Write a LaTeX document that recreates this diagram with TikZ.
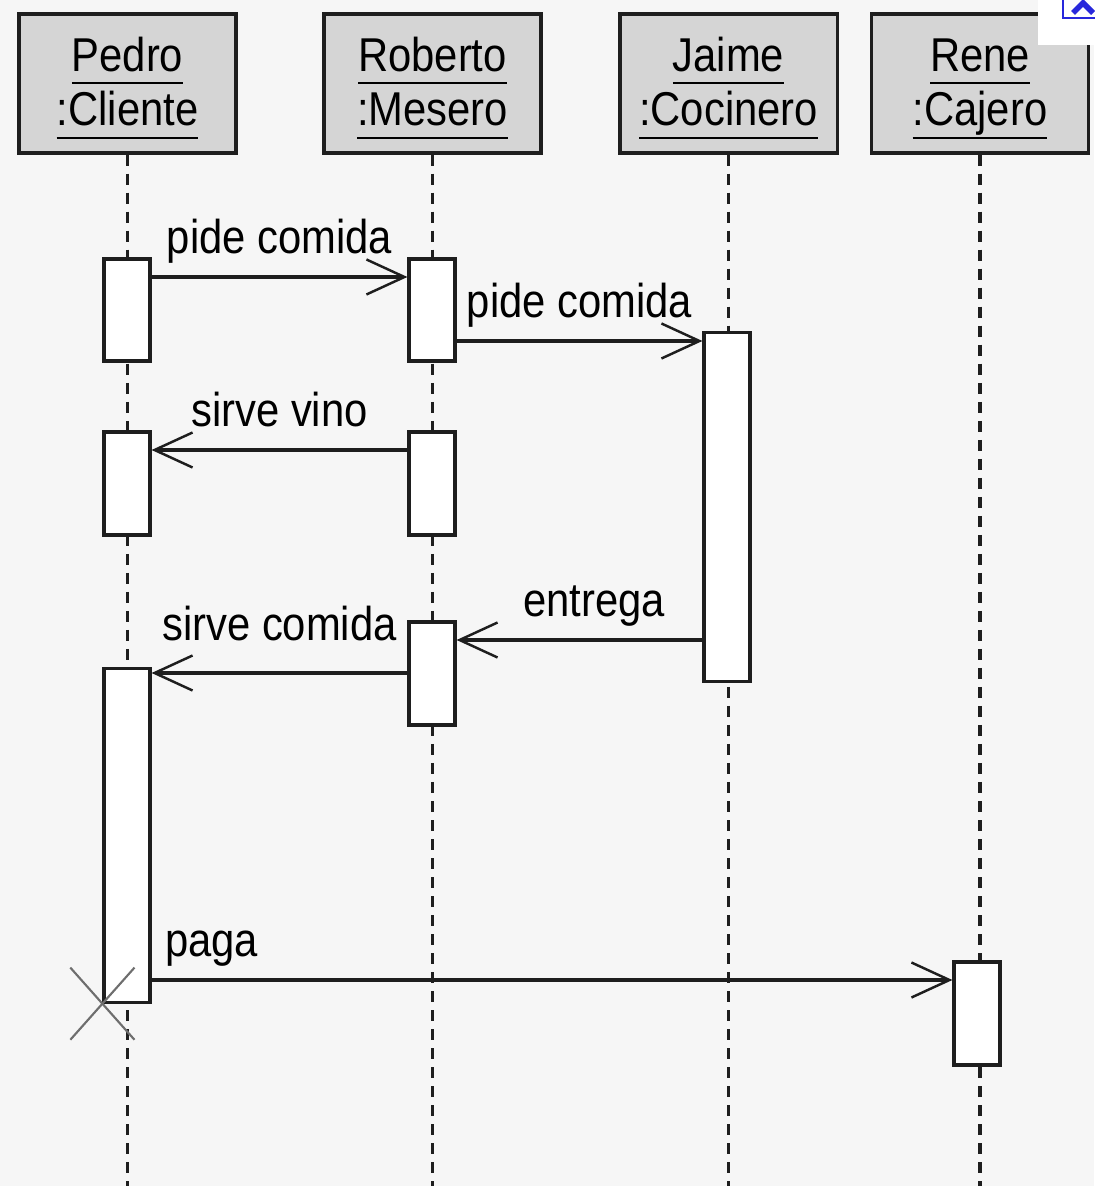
\documentclass[tikz,border=0pt]{standalone}
\usepackage{fontspec}
\setmainfont{Liberation Sans}[FakeStretch=0.88]
\usetikzlibrary{arrows.meta,shapes.misc}

\newcommand{\objname}[2]{\underline{\raisebox{0pt}[\height][2pt]{#1}}\rule{0pt}{12.5pt}\\\underline{\raisebox{0pt}[\height][2pt]{#2}}}

\begin{document}
\begin{tikzpicture}[x=0.01cm,y=-0.01cm,
  every node/.style={font=\fontsize{13.5}{15.6}\selectfont},
  head/.style={draw=sd_line,fill=sd_head,line width=0.9pt,minimum width=2.17cm,minimum height=1.39cm,align=center},
  act/.style={draw=sd_line,fill=white,line width=0.9pt,minimum width=0.46cm,inner sep=0pt},
  lifeline/.style={draw=sd_line,line width=0.9pt,dash pattern=on 0.11cm off 0.08cm},
  msg/.style={draw=sd_line,line width=0.9pt,-{Straight Barb[length=0.38cm,width=0.35cm,line width=0.7pt]}},
  lbl/.style={inner sep=1pt,text height=10pt,text depth=3pt,above=0.08cm}]

% ------------------------------------------------ diagram colors
\definecolor{sd_back}{RGB}{246,246,246}
\definecolor{sd_head}{RGB}{213,213,213}
\definecolor{sd_line}{RGB}{30,30,30}
\definecolor{sd_cross}{RGB}{110,110,110}
\definecolor{sd_icon}{RGB}{40,40,220}

\useasboundingbox (0,0) rectangle (1094,1186);
\fill[sd_back] (0,0) rectangle (1094,1186);

% ------------------------------------------------ objects
\node[head] (pedro)   at (127.5,83.5) {\objname{Pedro}{:Cliente}};
\node[head] (roberto) at (432.5,83.5) {\objname{Roberto}{:Mesero}};
\node[head] (jaime)   at (728.5,83.5) {\objname{Jaime}{:Cocinero}};
\node[head] (rene)    at (980,83.5)   {\objname{Rene}{:Cajero}};

\draw[lifeline] (pedro.south)   -- (pedro.south |- 0,1186);
\draw[lifeline] (roberto.south) -- (roberto.south |- 0,1186);
\draw[lifeline] (jaime.south)   -- (jaime.south |- 0,1186);
\draw[lifeline] (rene.south)    -- (rene.south |- 0,1186);

% ------------------------------------------------ activations
\node[act,minimum height=1.02cm] (p1) at (127,310) {};
\node[act,minimum height=1.02cm] (r1) at (432,310) {};
\node[act,minimum height=3.48cm] (j1) at (727,507) {};
\node[act,minimum height=1.03cm] (p2) at (127,483.5) {};
\node[act,minimum height=1.03cm] (r2) at (432,483.5) {};
\node[act,minimum height=1.03cm] (r3) at (432,673.5) {};
\node[act,minimum height=3.33cm] (p3) at (127,835.5) {};
\node[act,minimum height=1.03cm] (c1) at (977,1013.5) {};

% ------------------------------------------------ messages
\draw[msg] (p1.east |- 0,277) -- node[lbl] {pide comida} (r1.west |- 0,277);
\draw[msg] (r1.east |- 0,341) -- node[lbl] {pide comida} (j1.west |- 0,341);
\draw[msg] (r2.west |- 0,450) -- node[lbl] {sirve vino} (p2.east |- 0,450);
\draw[msg] (j1.west |- 0,640) -- node[lbl,pos=0.44] {entrega} (r3.east |- 0,640);
\draw[msg] (r3.west |- 0,673) -- node[lbl,yshift=0.09cm] {sirve comida} (p3.east |- 0,673);
\draw[msg] (p3.east |- 0,980) -- node[lbl,pos=0.075] {paga} (c1.west |- 0,980);

\node[cross out,draw=sd_cross,line width=0.6pt,minimum width=0.62cm,minimum height=0.70cm,inner sep=0pt] (fin) at (p3.south west) {};

% ------------------------------------------------ broken image icon
\fill[white] (1038,0) rectangle (1094,45);
\draw[sd_icon,line width=0.8pt] (1063,-10) rectangle (1110,18);
\draw[sd_icon,line width=1.6pt] (1073,13) -- (1083,3) -- (1093,13);

\end{tikzpicture}
\end{document}
